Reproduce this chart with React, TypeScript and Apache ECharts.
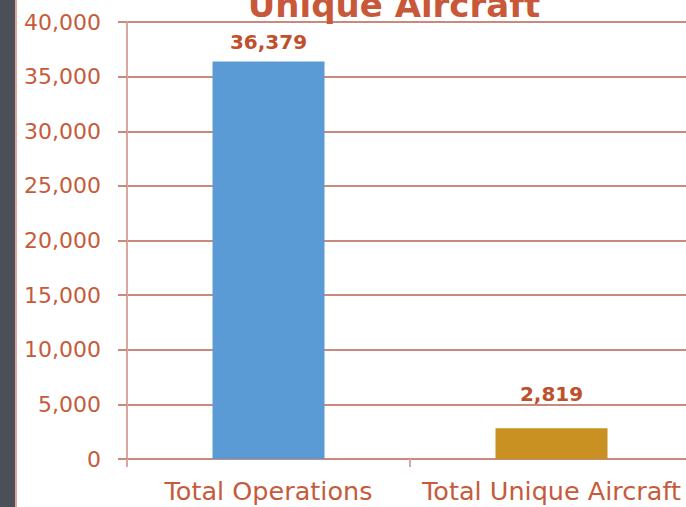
import React, { useEffect, useRef } from "react";
import * as echarts from "echarts";

const categories = ["Total Operations", "Total Unique Aircraft"];
const values = [36379, 2819];
const barColors = ["#5B9BD5", "#C99022"];
const labelDistances = [10, 24];
const titleText = "Unique Aircraft";

export default function App() {
  const ref = useRef<HTMLDivElement>(null);
  useEffect(() => {
    const chart = echarts.init(ref.current!, undefined, { renderer: "svg" });
    const font = "DejaVu Sans";
    chart.setOption({
      animation: false,
      backgroundColor: "#ffffff",
      graphic: [
        { type: "rect", shape: { x: 0, y: 0, width: 15, height: 507 }, style: { fill: "#4B5058" }, z: 10 },
        { type: "rect", shape: { x: 15, y: 0, width: 2, height: 507 }, style: { fill: "#E2A79C" }, z: 10 },
        {
          type: "text",
          x: 394,
          y: 5,
          z: 10,
          style: {
            text: titleText,
            fill: "#C8583A",
            font: `bold 34px "${font}"`,
            align: "center",
            verticalAlign: "middle",
          },
        },
      ],
      grid: { left: 127, width: 566, top: 22, height: 437, outerBoundsMode: "none", containLabel: false },
      xAxis: {
        type: "category",
        data: categories,
        axisLine: { lineStyle: { color: "#C9897D", width: 2 } },
        axisTick: { show: true, length: 8, lineStyle: { color: "#D9A7A0", width: 2 } },
        axisLabel: { color: "#C65B3B", fontFamily: font, fontSize: 25.5, margin: 19, interval: 0, hideOverlap: false },
      },
      yAxis: {
        type: "value",
        min: 0,
        max: 40000,
        interval: 5000,
        axisLine: { show: true, lineStyle: { color: "#D9A7A0", width: 2 } },
        axisTick: { show: true, length: 9, lineStyle: { color: "#C9897D", width: 2 } },
        splitLine: { lineStyle: { color: "#C9897D", width: 2 } },
        axisLabel: {
          color: "#C65B3B",
          fontFamily: font,
          fontSize: 22,
          margin: 26,
          formatter: (v: number) => v.toLocaleString("en-US"),
        },
      },
      series: [
        {
          type: "bar",
          barWidth: 112,
          data: values.map((v, i) => ({
            value: v,
            itemStyle: { color: barColors[i] },
            label: { distance: labelDistances[i] },
          })),
          label: {
            show: true,
            position: "top",
            color: "#C0502C",
            fontFamily: font,
            fontWeight: "bold",
            fontSize: 20,
            formatter: (p: any) => p.value.toLocaleString("en-US"),
          },
        },
      ],
    });
    return () => chart.dispose();
  }, []);
  return <div ref={ref} style={{ position: "absolute", left: 0, top: 0, width: 686, height: 507 }} />;
}
